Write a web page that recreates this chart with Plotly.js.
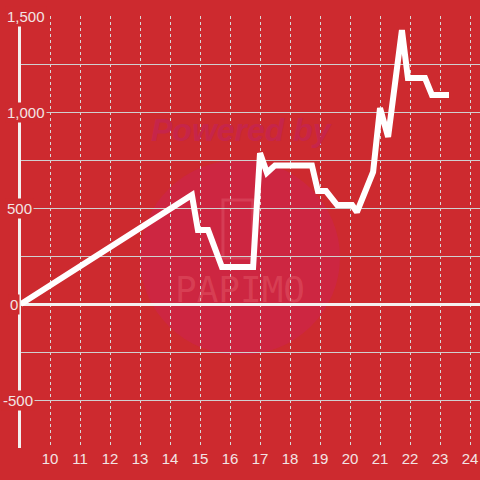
<!DOCTYPE html>
<html>
<head>
<meta charset="utf-8">
<script src="https://cdn.plot.ly/plotly-3.0.1.min.js"></script>
<style>html,body{margin:0;padding:0;background:#cd2a2f;}#chart{width:480px;height:480px;}</style>
</head>
<body>
<div id="chart"></div>
<script>
// Data (x = hour of day, y = value)
const times = [9.03, 14.73, 14.93, 15.27, 15.73, 16.77, 17.0, 17.23, 17.5, 18.73, 18.93, 19.2, 19.57, 20.07, 20.23, 20.77, 21.0, 21.27, 21.73, 21.93, 22.5, 22.73, 23.3];
const values = [0, 568, 385, 385, 193, 193, 786, 684, 722, 722, 588, 588, 515, 515, 479, 688, 1021, 870, 1427, 1177, 1177, 1089, 1089];
const yTickVals = [-500, 0, 500, 1000, 1500];
const yTickText = ['-500', '0', '500', '1,000', '1,500'];
const xTickVals = [10, 11, 12, 13, 14, 15, 16, 17, 18, 19, 20, 21, 22, 23, 24];

const BG = '#cd2a2f';
const TXT = '#f3e4e4';

const yLabelShift = {'-500': -20, '0': -13};
const annotations = yTickVals.map((v, i) => ({
  xref: 'paper', yref: 'y', x: 0, y: v,
  xanchor: 'left', yanchor: 'middle',
  xshift: (yLabelShift[yTickText[i]] !== undefined ? yLabelShift[yTickText[i]] : -16),
  text: yTickText[i], showarrow: false,
  bgcolor: BG, borderpad: 1,
  font: {family: 'Liberation Sans, Arial, sans-serif', size: 15, color: TXT}
}));
// watermark
annotations.push({xref: 'paper', yref: 'paper', x: 0.481, y: 0.782, text: '<b><i>Powered by</i></b>', showarrow: false,
  font: {family: 'Liberation Sans, Arial, sans-serif', size: 32, color: '#c6254a'}});
annotations.push({xref: 'paper', yref: 'paper', x: 0.477, y: 0.368, text: 'PAPIMO', showarrow: false,
  font: {family: 'DejaVu Sans Mono, monospace', size: 36, color: 'rgba(235,110,120,0.35)'}});

const trace = {
  x: times, y: values, type: 'scatter', mode: 'lines',
  line: {color: '#ffffff', width: 6},
  hoverinfo: 'skip'
};

const layout = {
  width: 480, height: 480,
  margin: {l: 21, r: 0, t: 16, b: 32},
  paper_bgcolor: BG, plot_bgcolor: BG,
  showlegend: false,
  xaxis: {
    range: [9.033, 24.333],
    tickvals: xTickVals,
    showgrid: true, gridcolor: '#d8d8d8', griddash: 'dot', gridwidth: 1,
    zeroline: false, showline: false, ticks: '',
    tickfont: {family: 'Liberation Sans, Arial, sans-serif', size: 15, color: TXT}
  },
  yaxis: {
    range: [-750, 1500],
    dtick: 250, tick0: 0,
    showticklabels: false, ticks: '',
    showgrid: true, gridcolor: '#d0d0d0', gridwidth: 1,
    zeroline: true, zerolinecolor: '#f4f0f0', zerolinewidth: 3,
    showline: true, linecolor: '#f4f0f0', linewidth: 3
  },
  shapes: [
    {type: 'circle', xref: 'paper', yref: 'paper', x0: 0.259, x1: 0.695, y0: 0.215, y1: 0.667,
     fillcolor: 'rgba(205,35,80,0.55)', line: {width: 0}, layer: 'below'},
    {type: 'rect', xref: 'paper', yref: 'paper', x0: 0.440, x1: 0.505, y0: 0.440, y1: 0.574,
     fillcolor: 'rgba(0,0,0,0)', line: {width: 3, color: 'rgba(225,90,110,0.45)'}, layer: 'below'}
  ],
  annotations: annotations
};

Plotly.newPlot('chart', [trace], layout, {staticPlot: true});
</script>
</body>
</html>
